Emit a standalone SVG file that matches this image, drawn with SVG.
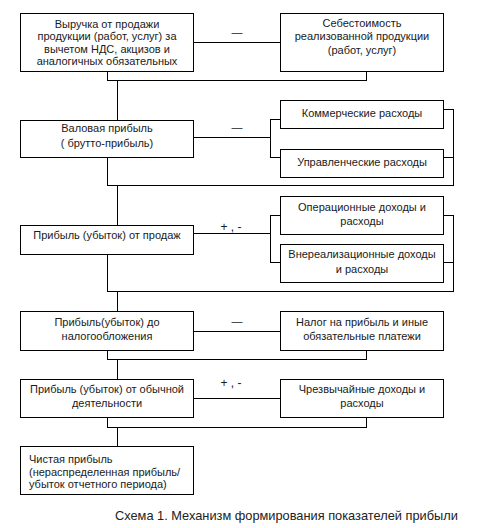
<svg xmlns="http://www.w3.org/2000/svg" width="478" height="528" viewBox="0 0 478 528">
<style>
.b{fill:#fff;stroke:#000;stroke-width:1}
.c{fill:none;stroke:#000;stroke-width:1}
text{font-family:"Liberation Sans",Arial,sans-serif;font-size:11px;fill:#1a1a1a}
.m{text-anchor:middle}
.s{font-size:12px}
.cap{font-size:12.8px;fill:#222}
</style>
<rect width="478" height="528" fill="#fff"/>
<g id="connectors" class="c" shape-rendering="crispEdges">
<path d="M193.5 42.5H280.5"/>
<path d="M107.5 71.5V80.5H366.5V71.5"/>
<path d="M117.5 80.5V120.5"/>
<path d="M193.5 137.5H270.5"/>
<path d="M280.5 119.5H270.5V157.5H280.5"/>
<path d="M443.5 109.5H453.5V185.5H107.5V157.5"/>
<path d="M443.5 157.5H453.5"/>
<path d="M117.5 185.5V225.5"/>
<path d="M193.5 233.5H270.5"/>
<path d="M280.5 215.5H270.5V262.5H280.5"/>
<path d="M443.5 215.5H453.5V291.5H107.5V254.5"/>
<path d="M443.5 262.5H453.5"/>
<path d="M117.5 291.5V311.5"/>
<path d="M193.5 331.5H280.5"/>
<path d="M107.5 350.5V359.5H366.5V350.5"/>
<path d="M117.5 359.5V379.5"/>
<path d="M193.5 398.5H280.5"/>
<path d="M107.5 417.5V427.5H366.5V417.5"/>
<path d="M117.5 427.5V446.5"/>
</g>
<g id="signs">
<text x="237" y="35.5" class="m">—</text>
<text x="237" y="130.5" class="m">—</text>
<text x="231" y="230.5" class="m s">+ , -</text>
<text x="237" y="324.5" class="m">—</text>
<text x="231" y="386.5" class="m s">+ , -</text>
</g>
<g id="n1"><rect class="b" x="20.5" y="13.5" width="173" height="58"/>
<text class="m" x="107" y="28">Выручка от продажи</text>
<text class="m" x="107" y="40">продукции (работ, услуг) за</text>
<text class="m" x="107" y="52.5">вычетом НДС, акцизов и</text>
<text class="m" x="107" y="64.5">аналогичных обязательных</text></g>
<g id="n2"><rect class="b" x="280.5" y="13.5" width="163" height="58"/>
<text class="m" x="362" y="27">Себестоимость</text>
<text class="m" x="362" y="40">реализованной продукции</text>
<text class="m" x="362" y="54">(работ, услуг)</text></g>
<g id="n3"><rect class="b" x="20.5" y="120.5" width="173" height="37"/>
<text class="m" x="107" y="132">Валовая прибыль</text>
<text class="m" x="107" y="147">( брутто-прибыль)</text></g>
<g id="n4"><rect class="b" x="280.5" y="100.5" width="163" height="28"/>
<text class="m" x="362" y="117">Коммерческие расходы</text></g>
<g id="n5"><rect class="b" x="280.5" y="149.5" width="163" height="28"/>
<text class="m" x="362" y="165.5">Управленческие расходы</text></g>
<g id="n6"><rect class="b" x="20.5" y="225.5" width="173" height="29"/>
<text class="m" x="107" y="239">Прибыль (убыток) от продаж</text></g>
<g id="n7"><rect class="b" x="280.5" y="196.5" width="163" height="38"/>
<text class="m" x="362" y="210.5">Операционные доходы и</text>
<text class="m" x="362" y="224.5">расходы</text></g>
<g id="n8"><rect class="b" x="280.5" y="244.5" width="163" height="38"/>
<text class="m" x="362" y="258">Внереализационные доходы</text>
<text class="m" x="362" y="273">и расходы</text></g>
<g id="n9"><rect class="b" x="20.5" y="311.5" width="173" height="39"/>
<text class="m" x="107" y="325.5">Прибыль(убыток) до</text>
<text class="m" x="107" y="339.5">налогообложения</text></g>
<g id="n10"><rect class="b" x="280.5" y="311.5" width="163" height="39"/>
<text class="m" x="362" y="325.5">Налог на прибыль и иные</text>
<text class="m" x="362" y="339.5">обязательные платежи</text></g>
<g id="n11"><rect class="b" x="20.5" y="379.5" width="173" height="38"/>
<text class="m" x="107" y="393">Прибыль (убыток) от обычной</text>
<text class="m" x="107" y="407">деятельности</text></g>
<g id="n12"><rect class="b" x="280.5" y="379.5" width="163" height="38"/>
<text class="m" x="362" y="393">Чрезвычайные доходы и</text>
<text class="m" x="362" y="407">расходы</text></g>
<g id="n13"><rect class="b" x="20.5" y="446.5" width="173" height="48"/>
<text x="29" y="463">Чистая прибыль</text>
<text x="29" y="475.5">(нераспределенная прибыль/</text>
<text x="29" y="488">убыток отчетного периода)</text></g>
<text class="cap" x="115" y="519.5">Схема 1. Механизм формирования показателей прибыли</text>
</svg>
